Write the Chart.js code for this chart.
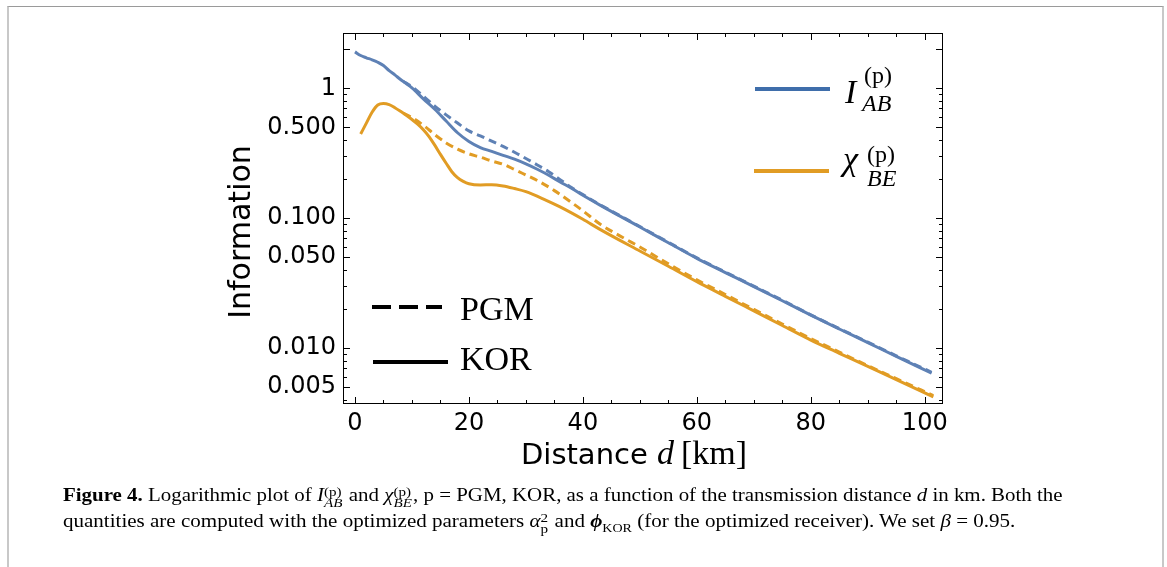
<!DOCTYPE html>
<html>
<head>
<meta charset="utf-8">
<script src="https://cdn.jsdelivr.net/npm/chart.js@4/dist/chart.umd.min.js"></script>
<style>
  body { margin: 0; background: #fff; }
  #wrap { position: relative; width: 1167px; height: 567px; overflow: hidden; }
  #frame { position: absolute; left: 7px; top: 6px; width: 1153px; height: 600px;
           border-top: 1px solid #9a9a9a; border-left: 2px solid #c8c8c8; border-right: 2px solid #c8c8c8; }
  canvas { position: absolute; left: 0; top: 0; }
  .cap { position: absolute; left: 63px; white-space: nowrap; transform-origin: 0 0;
         font-family: "Liberation Serif", serif; font-size: 18px; line-height: 22px; color: #000; }
  .cap b { font-weight: bold; }
  .st { display: inline-block; vertical-align: -6px; line-height: 11px; font-size: 13px; margin-right: 1px; }
  .st span { display: block; }
  .sb { font-size: 12px; vertical-align: -5px; }
</style>
</head>
<body>
<div id="wrap">
  <div id="frame"></div>
  <canvas id="myChart" width="1167" height="567"></canvas>
  <div class="cap" id="line1" style="top:484px"><b>Figure 4.</b> Logarithmic plot of <i>I</i><span class="st"><span>(p)</span><span><i>AB</i></span></span> and <i>χ</i><span class="st"><span>(p)</span><span><i>BE</i></span></span>, p = PGM, KOR, as a function of the transmission distance <i>d</i> in km. Both the</div>
  <div class="cap" id="line2" style="top:510px">quantities are computed with the optimized parameters <i>α</i><span class="st"><span>2</span><span>p</span></span> and <b><i>ϕ</i></b><span class="sb">KOR</span> (for the optimized receiver). We set <i>β</i> = 0.95.</div>
</div>
<script>
// distance in km
var kmKorAB = [0,1,2,3,4,5,6,7,8,9,10,12,14,16,18,20,22,24,26,28,30,32,34,36,38,40,43,50,55,60,65,70,75,80,85,90,95,101.2];
var infoKorAB = [1.91,1.79,1.72,1.66,1.59,1.50,1.37,1.27,1.17,1.09,1.01,0.83,0.69,0.56,0.455,0.39,0.35,0.327,0.305,0.285,0.262,0.238,0.214,0.19,0.170,0.150,0.126,0.0855,0.0647,0.049,0.0381,0.0297,0.0231,0.0179,0.0140,0.0110,0.0086,0.0064];

var kmPgmAB = [8.5,10,12,14,16,18,20,22,24,26,28,30,32,34,36,38,40,43,50,55,60,65,70,75,80,85,90,95,101.2];
var infoPgmAB = [1.13,1.03,0.87,0.73,0.625,0.54,0.47,0.43,0.392,0.357,0.322,0.288,0.257,0.228,0.198,0.172,0.152,0.127,0.0862,0.0652,0.0494,0.0384,0.0299,0.0233,0.0180,0.0141,0.0111,0.0087,0.0065];

var kmKorBE = [1,2,3,4,5,6,7,8,9,10,11,12,13,14,15,16,17,18,19,20,22,24,26,28,30,33,36,40,43,50,55,60,65,70,75,80,85,90,95,101.5];
var infoKorBE = [0.445,0.54,0.655,0.745,0.765,0.75,0.71,0.665,0.62,0.575,0.53,0.48,0.425,0.365,0.31,0.265,0.228,0.205,0.192,0.184,0.18,0.181,0.177,0.169,0.16,0.141,0.122,0.098,0.082,0.0558,0.0426,0.0324,0.025,0.0193,0.0149,0.0115,0.0091,0.0072,0.0057,0.0042];

var kmPgmBE = [8.5,10,12,14,16,18,20,22,24,26,28,30,32,35,38,40,43,47,50,55,60,65,70,75,80,85,90,95,101.5];
var infoPgmBE = [0.642,0.595,0.52,0.44,0.38,0.34,0.313,0.295,0.276,0.26,0.237,0.215,0.195,0.163,0.132,0.114,0.090,0.071,0.060,0.0445,0.0335,0.0258,0.0198,0.0153,0.0118,0.0093,0.0073,0.0058,0.0043];

var xTickValues = [0,20,40,60,80,100];
var yTickValues = [0.005,0.01,0.05,0.1,0.5,1];
var yTickLabels = ['0.005','0.010','0.050','0.100','0.500','1'];

var blue = '#5e81b5';
var orange = '#e19c24';

function points(xs, ys){
    var out = [];
    for(var i = 0; i < xs.length; i++){
        out.push({x: xs[i], y: ys[i]});
    }
    return out;
}

function series(xs, ys, color, dashed){
    return {
        data: points(xs, ys),
        borderColor: color,
        borderWidth: 3,
        borderDash: dashed ? [8,5] : [],
        pointRadius: 0,
        fill: false,
        cubicInterpolationMode: 'monotone'
    };
}

// frame, inward ticks, titles and legends
var decor = {
    id: 'decor',
    afterDraw: function(chart){
        var ctx = chart.ctx;
        var a = chart.chartArea;
        var xs = chart.scales.x, ys = chart.scales.y;
        ctx.save();
        ctx.strokeStyle = '#000';
        ctx.lineWidth = 1;
        ctx.strokeRect(a.left + 0.5, a.top + 0.5, a.right - a.left - 1, a.bottom - a.top - 1);

        ctx.beginPath();
        for(var v = 0; v <= 100; v += 5){
            var px = Math.round(xs.getPixelForValue(v)) + 0.5;
            var len = v % 20 === 0 ? 7 : 4;
            ctx.moveTo(px, a.bottom); ctx.lineTo(px, a.bottom - len);
            ctx.moveTo(px, a.top); ctx.lineTo(px, a.top + len);
        }
        for(var k = -3; k <= 0; k++){
            for(var m = 1; m <= 9; m++){
                var val = m * Math.pow(10, k);
                if(val < ys.min || val > ys.max) continue;
                var py = Math.round(ys.getPixelForValue(val)) + 0.5;
                var l = (m === 1 || m === 5 || (k === 0 && m === 2)) ? 7 : 4;
                ctx.moveTo(a.left, py); ctx.lineTo(a.left + l, py);
                ctx.moveTo(a.right, py); ctx.lineTo(a.right - l, py);
            }
        }
        ctx.stroke();

        ctx.fillStyle = '#000';
        // y title
        ctx.save();
        ctx.translate(250, 232);
        ctx.rotate(-Math.PI / 2);
        ctx.textAlign = 'center';
        ctx.textBaseline = 'alphabetic';
        ctx.font = '30px "DejaVu Sans"';
        ctx.fillText('Information', 0, 0);
        ctx.restore();

        // x title
        ctx.textAlign = 'left';
        ctx.textBaseline = 'alphabetic';
        ctx.font = '29px "DejaVu Sans"';
        ctx.fillText('Distance', 521, 464);
        ctx.font = 'italic 34px "Liberation Serif"';
        ctx.fillText('d', 657, 464);
        ctx.font = '34px "Liberation Serif"';
        ctx.fillText('[km]', 681, 464);

        // colour legend
        ctx.lineWidth = 4;
        ctx.strokeStyle = '#3f6eab';
        ctx.beginPath(); ctx.moveTo(755, 89); ctx.lineTo(830, 89); ctx.stroke();
        ctx.strokeStyle = orange;
        ctx.beginPath(); ctx.moveTo(754, 171); ctx.lineTo(829, 171); ctx.stroke();

        ctx.font = 'italic 34px "Liberation Serif"';
        ctx.fillText('I', 845, 103);
        ctx.fillText('χ', 843, 170);
        ctx.font = '24px "Liberation Serif"';
        ctx.fillText('(p)', 864, 83);
        ctx.fillText('(p)', 867, 162);
        ctx.font = 'italic 24px "Liberation Serif"';
        ctx.fillText('AB', 862, 111);
        ctx.fillText('BE', 867, 186);

        // style legend
        ctx.strokeStyle = '#000';
        ctx.setLineDash([19, 8]);
        ctx.beginPath(); ctx.moveTo(372, 307); ctx.lineTo(442, 307); ctx.stroke();
        ctx.setLineDash([]);
        ctx.beginPath(); ctx.moveTo(373, 362); ctx.lineTo(448, 362); ctx.stroke();
        ctx.font = '34px "Liberation Serif"';
        ctx.fillText('PGM', 460, 320);
        ctx.fillText('KOR', 460, 370);
        ctx.restore();
    }
};

var ctx = document.getElementById('myChart').getContext('2d');
var chart = new Chart(ctx, {
    type: 'line',
    data: {
        datasets: [
            series(kmKorAB, infoKorAB, blue, false),
            series(kmPgmAB, infoPgmAB, blue, true),
            series(kmKorBE, infoKorBE, orange, false),
            series(kmPgmBE, infoPgmBE, orange, true)
        ]
    },
    options: {
        responsive: false,
        animation: false,
        devicePixelRatio: 1,
        layout: { padding: { top: 33, right: 224, left: 0, bottom: 0 } },
        plugins: { legend: { display: false }, tooltip: { enabled: false } },
        scales: {
            x: {
                type: 'linear',
                min: -2.1,
                max: 103.2,
                grid: { display: false, drawTicks: false },
                border: { display: false },
                afterBuildTicks: function(s){ s.ticks = xTickValues.map(function(v){ return {value: v}; }); },
                afterFit: function(s){ s.height = 163; },
                ticks: { color: '#000', padding: 5, maxRotation: 0, font: { family: 'DejaVu Sans', size: 24 } }
            },
            y: {
                type: 'logarithmic',
                min: 0.0037,
                max: 2.67,
                grid: { display: false, drawTicks: false },
                border: { display: false },
                afterBuildTicks: function(s){ s.ticks = yTickValues.map(function(v){ return {value: v}; }); },
                afterFit: function(s){ s.width = 343; },
                ticks: {
                    color: '#000',
                    padding: 7,
                    font: { family: 'DejaVu Sans', size: 24 },
                    callback: function(v){ return yTickLabels[yTickValues.indexOf(v)]; }
                }
            }
        }
    },
    plugins: [decor]
});

function fitLine(id, target){
    var el = document.getElementById(id);
    el.style.transform = 'scaleX(' + (target / el.scrollWidth) + ')';
}
fitLine('line1', 999);
fitLine('line2', 952);
</script>
</body>
</html>
